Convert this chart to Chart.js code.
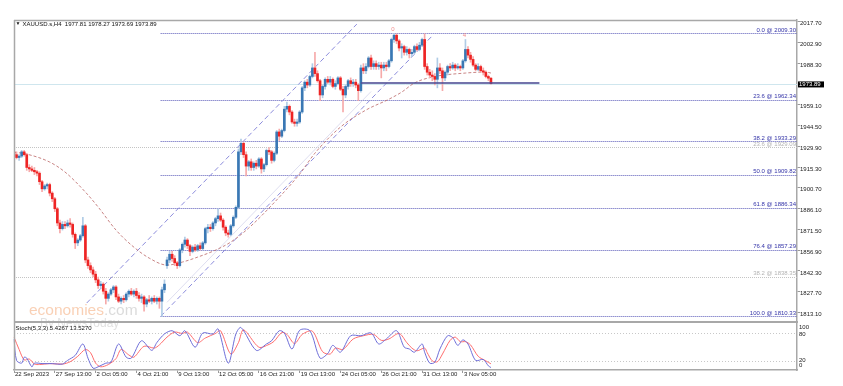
<!DOCTYPE html>
<html>
<head>
<meta charset="utf-8">
<script src="https://cdn.jsdelivr.net/npm/chart.js@4.4.0/dist/chart.umd.min.js"></script>
<style>
  html, body { margin: 0; padding: 0; background: #fff; }
</style>
</head>
<body>
<canvas id="chart" width="843" height="386"></canvas>
<script>
// --- data ---
const symbolTitle = 'XAUUSD.s,H4  1977.81 1978.27 1973.69 1973.89';
const stochTitle = 'Stoch(5,3,3) 5.4267 13.5270';
const timeTicks = ['22 Sep 2023', '27 Sep 13:00', '2 Oct 05:00', '4 Oct 21:00', '9 Oct 13:00', '12 Oct 05:00',
  '16 Oct 21:00', '19 Oct 13:00', '24 Oct 05:00', '26 Oct 21:00', '31 Oct 13:00', '3 Nov 05:00'];
const barsPerTick = 16;
const slotCount = 308;
const priceTicks = [2017.70, 2002.90, 1988.30, 1959.10, 1944.50, 1929.90, 1915.30, 1900.70,
  1886.10, 1871.50, 1856.90, 1842.30, 1827.70, 1813.10];
const lastPrice = 1973.89;

// [open, high, low, close] per H4 bar
const ohlc = [
  [1926,1928,1923,1924],[1924,1926,1921,1922],[1922,1924,1920,1923],[1923,1927,1922,1926],[1926,1927,1923,1924],
  [1924,1925,1913,1915],[1915,1917,1912,1914],[1914,1916,1912,1913],[1913,1915,1910,1912],[1912,1913,1909,1911],
  [1911,1912,1903,1905],[1905,1906,1898,1900],[1900,1903,1899,1902],[1902,1904,1900,1903],[1903,1904,1895,1897],
  [1897,1898,1891,1893],[1893,1894,1884,1886],[1886,1887,1874,1876],[1876,1878,1869,1872],[1872,1877,1871,1875],
  [1875,1877,1872,1874],[1874,1878,1873,1876],[1876,1879,1873,1875],[1875,1876,1866,1868],[1868,1869,1858,1862],
  [1862,1865,1860,1864],[1864,1868,1863,1867],[1867,1880,1866,1874],[1874,1875,1848,1850],[1850,1852,1844,1846],
  [1846,1848,1841,1843],[1843,1845,1838,1840],[1840,1842,1834,1836],[1836,1838,1830,1832],[1832,1835,1830,1833],
  [1833,1834,1826,1828],[1828,1830,1819,1823],[1823,1827,1821,1826],[1826,1830,1825,1829],[1829,1832,1827,1831],
  [1831,1832,1822,1824],[1824,1826,1820,1821],[1821,1824,1819,1823],[1823,1825,1820,1822],[1822,1827,1821,1826],
  [1826,1829,1824,1828],[1828,1830,1825,1826],[1826,1829,1824,1828],[1828,1830,1823,1825],[1825,1827,1821,1823],
  [1823,1826,1820,1824],[1824,1825,1814,1819],[1819,1823,1817,1822],[1822,1825,1820,1821],[1821,1824,1819,1823],
  [1823,1825,1820,1821],[1821,1824,1819,1823],[1823,1824,1816,1821],[1821,1831,1810.33,1829],[1829,1836,1827,1833],
  [1846,1852,1844,1850],[1850,1856,1848,1854],[1854,1856,1849,1851],[1851,1853,1846,1848],[1848,1849,1844,1846],
  [1846,1858,1845,1857],[1857,1862,1855,1861],[1861,1866,1859,1864],[1864,1865,1858,1860],[1860,1861,1853,1856],
  [1856,1860,1855,1859],[1859,1861,1856,1857],[1857,1861,1856,1860],[1860,1862,1857,1858],[1858,1863,1857,1862],
  [1862,1873,1861,1872],[1872,1875,1869,1873],[1873,1875,1870,1872],[1872,1877,1871,1876],[1876,1880,1874,1879],
  [1879,1886,1877,1881],[1881,1883,1877,1878],[1878,1879,1871,1873],[1873,1874,1867,1869],[1869,1871,1866,1868],
  [1868,1875,1867,1874],[1874,1881,1873,1880],[1880,1888,1879,1887],[1887,1928,1886,1926],[1926,1935,1924,1932],
  [1932,1933,1922,1924],[1924,1926,1909,1916],[1916,1920,1913,1919],[1919,1921,1913,1915],[1915,1919,1913,1918],
  [1918,1920,1914,1916],[1916,1922,1915,1921],[1921,1922,1911,1914],[1914,1918,1912,1917],[1917,1928,1916,1927],
  [1927,1929,1924,1926],[1926,1927,1918,1920],[1920,1926,1919,1925],[1925,1941,1924,1940],[1940,1942,1934,1937],
  [1937,1942,1936,1941],[1941,1958,1940,1956],[1956,1961,1954,1958],[1958,1959,1952,1954],[1954,1955,1946,1947],
  [1947,1949,1944,1946],[1946,1949,1944,1947],[1947,1955,1946,1954],[1954,1972,1953,1971],[1971,1976,1969,1975],
  [1975,1977,1971,1973],[1973,1980,1972,1979],[1979,1988,1978,1985],[1985,1996,1979,1981],[1981,1983,1975,1976],
  [1976,1977,1962,1966],[1966,1973,1964,1972],[1972,1978,1970,1977],[1977,1979,1974,1975],[1975,1979,1973,1977],
  [1977,1978,1971,1972],[1972,1976,1970,1974],[1974,1979,1973,1978],[1978,1979,1969,1970],[1970,1972,1954,1966],
  [1966,1973,1964,1972],[1972,1977,1970,1976],[1976,1978,1972,1974],[1974,1977,1972,1975],[1975,1977,1971,1973],
  [1973,1974,1962,1969],[1969,1987,1968,1985],[1985,1988,1981,1983],[1983,1988,1981,1986],[1986,1993,1985,1992],
  [1992,1994,1984,1986],[1986,1990,1984,1988],[1988,1990,1984,1986],[1986,1989,1984,1987],[1987,1989,1978,1985],
  [1985,1989,1983,1987],[1987,1989,1983,1986],[1986,1991,1985,1990],[1990,2006,1989,2005],[2005,2009.3,2003,2008],
  [2008,2009,2002,2004],[2004,2005,1997,1999],[1999,2002,1992,2000],[2000,2001,1994,1996],[1996,2000,1994,1998],
  [1998,1999,1992,1995],[1995,1998,1993,1996],[1996,2001,1995,2000],[2000,2002,1997,1998],[1998,2003,1997,2001],
  [2001,2006,2000,2005],[2005,2009,1984,1986],[1986,1988,1980,1982],[1982,1984,1978,1980],[1980,1983,1976,1979],
  [1979,1981,1973,1977],[1977,1992,1971,1985],[1985,1988,1981,1983],[1983,1985,1969,1978],[1978,1983,1976,1982],
  [1982,1987,1980,1986],[1986,1988,1983,1985],[1985,1989,1984,1987],[1987,1988,1983,1985],[1985,1988,1984,1986],
  [1986,1987,1983,1985],[1985,1991,1984,1990],[1990,2005,1989,1998],[1998,2000,1992,1994],[1994,1996,1989,1991],
  [1991,1993,1986,1987],[1987,1988,1983,1984],[1984,1988,1983,1986],[1986,1987,1982,1983],[1983,1985,1980,1982],
  [1982,1983,1978,1979],[1979,1980,1976,1977.8],[1977.81,1978.27,1973.69,1973.89]
];

// moving average, sampled [bar, price]
const maPoints = [[0,1925.8],[5,1924.4],[14,1918.8],[20,1911.8],[28,1897.7],[33,1887.2],[40,1871.0],[46,1860.5],
  [53,1851.3],[60,1846.4],[66,1848.5],[72,1852.0],[79,1856.9],[85,1862.6],[92,1872.4],[103,1892.2],[112,1910.4],
  [118,1925.1],[128,1943.4],[138,1955.4],[147,1963.0],[152,1968.0],[157,1974.4],[164,1978.6],[177,1981.4],
  [185,1982.1],[187,1981.4]];

// stochastic %K / %D, sampled [bar, value]
const stochK = [[0,68],[1,21],[3,15],[4,28],[5,26],[7,7],[8,15],[11,14],[15,14],[19,13],[21,21],[24,32],[27,57],
  [29,26],[31,4],[33,7],[36,15],[38,17],[41,57],[44,28],[46,26],[50,64],[54,43],[56,60],[59,79],[62,86],[65,75],
  [67,86],[71,50],[74,81],[78,79],[80,90],[84,15],[87,79],[89,93],[95,43],[99,57],[101,64],[104,86],[106,81],
  [109,46],[112,87],[116,86],[120,26],[123,36],[125,54],[128,39],[132,75],[136,75],[140,81],[143,57],[146,68],
  [150,86],[153,50],[155,46],[157,39],[160,57],[161,39],[163,15],[165,17],[167,46],[170,75],[172,71],[174,54],
  [176,66],[178,57],[181,21],[184,23],[186,9],[187,5.43]];
const stochD = [[0,72],[2,45],[4,22],[6,24],[8,13],[10,12],[14,14],[19,13],[22,18],[25,30],[28,45],[30,38],
  [32,15],[34,7],[37,12],[40,25],[42,45],[45,33],[47,28],[51,52],[55,48],[57,55],[60,72],[63,83],[66,80],[68,83],
  [72,60],[75,70],[79,80],[81,86],[85,35],[88,60],[90,88],[96,50],[100,56],[102,63],[105,82],[107,78],[110,58],
  [113,78],[117,85],[121,40],[124,35],[126,48],[129,45],[133,68],[137,75],[141,78],[144,65],[147,68],[151,80],
  [154,60],[156,48],[158,42],[161,48],[162,38],[164,20],[166,18],[168,35],[171,65],[173,72],[175,62],[177,62],
  [179,55],[182,30],[185,20],[187,13.53]];
const stochLevels = [80, 20];
const stochAxisLabels = [100, 80, 20, 0];

// drawn objects
const fibLevels = [['0.0', 2009.30], ['23.6', 1962.34], ['38.2', 1933.29], ['50.0', 1909.82],
  ['61.8', 1886.34], ['76.4', 1857.29], ['100.0', 1810.33]];
const fibStart = 57.5;
const fibGrey = [['23.6', 1929.09], ['38.2', 1838.35]];
const channelUpper = [[28.5, 1819.7], [134.4, 2015.8]];
const channelLower = [[57.5, 1810.33], [163.8, 2007.2]];
const channelFaint = [[60, 1820.2], [140, 1968.4]];
const supportLine = { from: 136, to: 206, price: 1974.6 };
const waveMarks = [[149, '0'], [177, '4']];

// --- layout / style ---
const priceMax = 2018.7, priceMin = 1772.62;
const stochMax = 766.4;
const font = 'Liberation Sans, Arial, sans-serif';
const bullBody = '#3a78b4', bullWick = '#b0cce6';
const bearBody = '#ee2424', bearWick = '#f6aaaa';

function sparse(points, n) {
  const arr = new Array(n).fill(null);
  points.forEach(([i, v]) => { arr[i] = v; });
  return arr;
}

const labels = Array.from({ length: slotCount }, (_, i) => String(i));
const isBull = i => ohlc[i] && ohlc[i][3] >= ohlc[i][0];

function hLine(ctx, x1, x2, y, color, dash, width) {
  ctx.save();
  ctx.strokeStyle = color;
  ctx.lineWidth = width || 1;
  ctx.setLineDash(dash || []);
  const yy = Math.round(y) + 0.5;
  ctx.beginPath();
  ctx.moveTo(x1, yy);
  ctx.lineTo(x2, yy);
  ctx.stroke();
  ctx.restore();
}

const overlay = {
  id: 'overlay',
  beforeDatasetsDraw(chart) {
    const { ctx, chartArea: a, scales: { x, y, y2 } } = chart;
    ctx.save();
    ctx.beginPath();
    ctx.rect(a.left, a.top, a.right - a.left, a.bottom - a.top);
    ctx.clip();
    // grey fibo set
    fibGrey.forEach(([, p]) => hLine(ctx, a.left, a.right, y.getPixelForValue(p), '#c4c4c4', [1, 1]));
    // main fibo set
    const fx = x.getPixelForValue(fibStart);
    fibLevels.forEach(([, p]) => hLine(ctx, fx, a.right, y.getPixelForValue(p), '#5858b8', [1, 1]));
    // last price line
    hLine(ctx, a.left, a.right, y.getPixelForValue(lastPrice), '#cfe6ee', []);
    // channel
    [[channelUpper, '#8c8cdc', [5, 3]], [channelLower, '#8c8cdc', [5, 3]], [channelFaint, 'rgba(200,200,230,0.6)', []]]
      .forEach(([ln, col, dash]) => {
        ctx.save();
        ctx.strokeStyle = col;
        ctx.lineWidth = 1;
        ctx.setLineDash(dash);
        ctx.beginPath();
        ctx.moveTo(x.getPixelForValue(ln[0][0]), y.getPixelForValue(ln[0][1]));
        ctx.lineTo(x.getPixelForValue(ln[1][0]), y.getPixelForValue(ln[1][1]));
        ctx.stroke();
        ctx.restore();
      });
    // stoch levels
    stochLevels.forEach(v => hLine(ctx, a.left, a.right, y2.getPixelForValue(v), '#c8c8c8', [1, 2]));
    ctx.restore();
  },
  afterDatasetsDraw(chart) {
    const { ctx, chartArea: a, scales: { x, y } } = chart;
    // support line
    ctx.save();
    ctx.strokeStyle = 'rgba(80,80,150,0.8)';
    ctx.lineWidth = 2;
    const sy = Math.round(y.getPixelForValue(supportLine.price));
    ctx.beginPath();
    ctx.moveTo(x.getPixelForValue(supportLine.from), sy);
    ctx.lineTo(x.getPixelForValue(supportLine.to), sy);
    ctx.stroke();
    ctx.restore();

    ctx.save();
    ctx.font = '6px ' + font;
    ctx.textBaseline = 'middle';
    // fibo labels
    ctx.textAlign = 'right';
    fibLevels.forEach(([lvl, p]) => {
      ctx.fillStyle = '#3434a8';
      ctx.fillText(lvl + ' @ ' + p.toFixed(2), a.right - 1, y.getPixelForValue(p) - 3.5);
    });
    fibGrey.forEach(([lvl, p]) => {
      ctx.fillStyle = '#b4b4b4';
      ctx.fillText(lvl + ' @ ' + p.toFixed(2), a.right - 1, y.getPixelForValue(p) - 3.5);
    });
    // wave marks
    ctx.textAlign = 'center';
    ctx.fillStyle = '#f08c8c';
    waveMarks.forEach(([i, t]) => ctx.fillText(t, x.getPixelForValue(i) - 1, y.getPixelForValue(ohlc[i][1]) - 4));

    // watermark
    ctx.textAlign = 'left';
    ctx.textBaseline = 'alphabetic';
    ctx.font = '15.5px ' + font;
    ctx.fillStyle = 'rgba(244,170,120,0.55)';
    ctx.fillText('economies', 29, 315);
    const w = ctx.measureText('economies').width;
    ctx.fillStyle = 'rgba(190,190,190,0.55)';
    ctx.fillText('.com', 29 + w, 315);
    ctx.font = '12px ' + font;
    ctx.fillStyle = 'rgba(200,200,200,0.55)';
    ctx.fillText('By NewsToday', 40, 327);
    ctx.restore();
  },
  afterDraw(chart) {
    const { ctx, chartArea: a, scales: { y, y2 } } = chart;
    ctx.save();
    ctx.strokeStyle = '#a8a8a8';
    ctx.lineWidth = 1.5;
    ctx.beginPath();
    ctx.moveTo(a.left + 0.5, a.top);
    ctx.lineTo(a.left + 0.5, a.bottom);
    ctx.moveTo(a.left, a.top + 0.5);
    ctx.lineTo(a.right, a.top + 0.5);
    ctx.stroke();
    ctx.lineWidth = 2;
    ctx.beginPath();
    ctx.moveTo(a.left, 322);
    ctx.lineTo(a.right + 1, 322);
    ctx.stroke();

    ctx.font = '6px ' + font;
    ctx.textBaseline = 'middle';
    ctx.textAlign = 'left';
    ctx.fillStyle = '#111';
    ctx.font = '5px ' + font;
    ctx.fillText('\u25BC', 15.5, 24);
    ctx.font = '6px ' + font;
    ctx.fillText(symbolTitle, 22.5, 24.5);
    ctx.fillText(stochTitle, 15.5, 328.5);

    // last price box
    const py = y.getPixelForValue(lastPrice);
    ctx.fillStyle = '#000';
    ctx.fillRect(a.right + 1, py - 2.3, 26, 6);
    ctx.fillStyle = '#fff';
    ctx.fillText(lastPrice.toFixed(2), a.right + 2, py + 0.8);

    // stoch axis labels
    ctx.fillStyle = '#222';
    const offs = { 100: 3.5, 80: 0.5, 20: -0.5, 0: -5 };
    stochAxisLabels.forEach(v => ctx.fillText(String(v), a.right + 2, y2.getPixelForValue(v) + offs[v]));
    ctx.restore();
  }
};

new Chart(document.getElementById('chart'), {
  data: {
    labels,
    datasets: [
      {
        type: 'bar', label: 'body', order: 0, grouped: false,
        data: ohlc.map(c => [c[0], c[3]]),
        backgroundColor: ctx => isBull(ctx.dataIndex) ? bullBody : bearBody,
        barThickness: 2, minBarLength: 1, borderWidth: 0, yAxisID: 'y'
      },
      {
        type: 'bar', label: 'wick', order: 1, grouped: false,
        data: ohlc.map(c => [c[2], c[1]]),
        backgroundColor: ctx => isBull(ctx.dataIndex) ? bullWick : bearWick,
        barThickness: 1, borderWidth: 0, yAxisID: 'y'
      },
      {
        type: 'line', label: 'MA', order: 2,
        data: sparse(maPoints, ohlc.length), spanGaps: true,
        borderColor: 'rgba(190,110,110,0.85)', borderWidth: 1, borderDash: [3, 2],
        pointRadius: 0, cubicInterpolationMode: 'monotone', yAxisID: 'y'
      },
      {
        type: 'line', label: '%D', order: 3,
        data: sparse(stochD, ohlc.length), spanGaps: true,
        borderColor: '#ff6e6e', borderWidth: 1, pointRadius: 0, tension: 0.3, yAxisID: 'y2'
      },
      {
        type: 'line', label: '%K', order: 2,
        data: sparse(stochK, ohlc.length), spanGaps: true,
        borderColor: '#6e6ed8', borderWidth: 1, pointRadius: 0, tension: 0.3, yAxisID: 'y2'
      }
    ]
  },
  options: {
    responsive: false,
    animation: false,
    events: [],
    layout: { padding: { left: 14, top: 20, right: 0, bottom: 0 } },
    plugins: { legend: { display: false }, tooltip: { enabled: false } },
    scales: {
      x: {
        type: 'category', offset: false,
        grid: { drawOnChartArea: false, drawTicks: true, tickLength: 3, color: '#9a9a9a', offset: false },
        border: { display: true, color: '#a8a8a8', width: 1.5 },
        ticks: {
          autoSkip: false, maxRotation: 0, minRotation: 0, align: 'start', padding: -2, labelOffset: 1,
          font: { family: font, size: 6 }, color: '#222',
          callback: (v, i) => (i % barsPerTick === 0 && i / barsPerTick < timeTicks.length) ? timeTicks[i / barsPerTick] : null
        },
        afterFit: s => { s.height = 16; }
      },
      y: {
        position: 'right', min: priceMin, max: priceMax,
        afterBuildTicks: s => { s.ticks = priceTicks.map(v => ({ value: v })); },
        grid: { drawOnChartArea: false, tickLength: 3, color: '#9a9a9a' },
        border: { display: true, color: '#a8a8a8', width: 1.5 },
        ticks: { padding: 0, labelOffset: 2, font: { family: font, size: 6 }, color: '#222', callback: v => v.toFixed(2) },
        afterFit: s => { s.width = 46; }
      },
      y2: { display: false, position: 'right', min: 0, max: stochMax }
    }
  },
  plugins: [overlay]
});
</script>
</body>
</html>
